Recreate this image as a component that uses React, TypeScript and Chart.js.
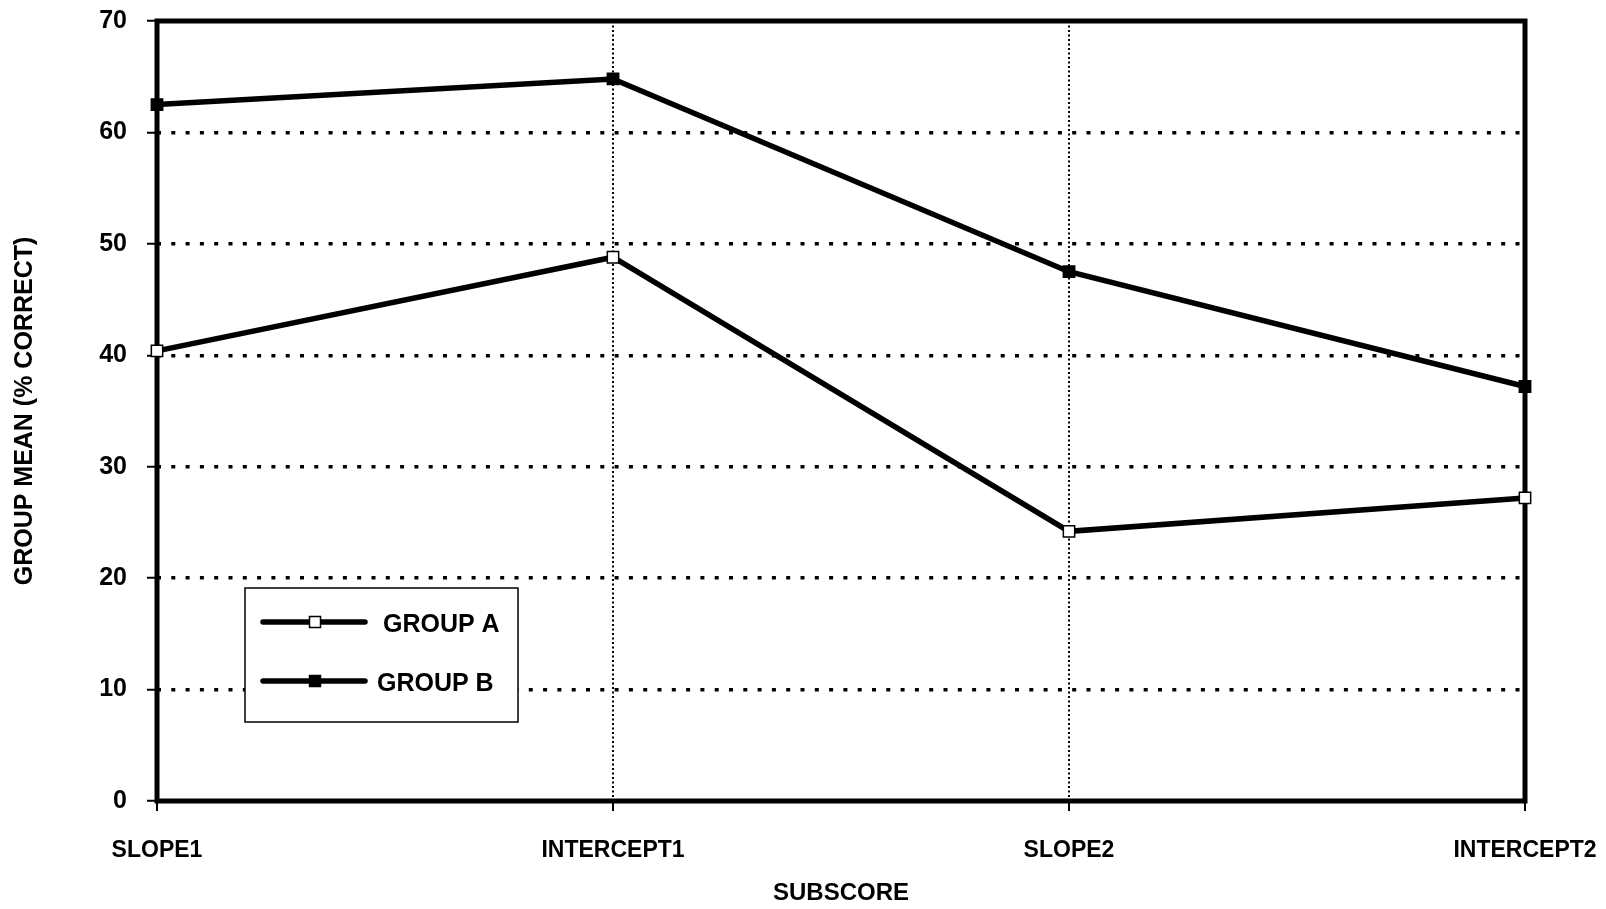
import React, { useEffect, useRef } from "react";
import { Chart, registerables } from "chart.js";

Chart.register(...registerables);

// Subscore categories along the x axis
const categories: string[] = ["SLOPE1", "INTERCEPT1", "SLOPE2", "INTERCEPT2"];

// Group means (% correct) per subscore
const groupA: number[] = [40.4, 48.8, 24.2, 27.2];
const groupB: number[] = [62.5, 64.8, 47.5, 37.2];

const seriesLabels: string[] = ["GROUP A", "GROUP B"];

// Value axis range and step
const yMin = 0;
const yMax = 70;
const yStep = 10;

const FONT = "'Liberation Sans', Arial, Helvetica, sans-serif";

// Let the layout padding alone decide the plot edges
function clearScalePadding(scale: any) {
  scale.paddingTop = 0;
  scale.paddingBottom = 0;
  scale.paddingLeft = 0;
  scale.paddingRight = 0;
}

// Thick black frame around the plotting area
const framePlugin = {
  id: "plotFrame",
  beforeDatasetsDraw(chart: any) {
    const { ctx, chartArea } = chart;
    ctx.save();
    ctx.strokeStyle = "#000";
    ctx.lineWidth = 5;
    ctx.lineJoin = "miter";
    ctx.strokeRect(
      chartArea.left,
      chartArea.top,
      chartArea.right - chartArea.left,
      chartArea.bottom - chartArea.top
    );
    ctx.restore();
  },
};

// Boxed legend sitting inside the lower-left of the plot
const boxedLegendPlugin = {
  id: "boxedLegend",
  afterDraw(chart: any) {
    const { ctx } = chart;
    const box = { x: 245, y: 588, w: 273, h: 134 };
    const rows = [622, 681];
    const textX = [383, 377];
    ctx.save();
    ctx.fillStyle = "#fff";
    ctx.fillRect(box.x, box.y, box.w, box.h);
    ctx.strokeStyle = "#000";
    ctx.lineWidth = 1.5;
    ctx.strokeRect(box.x, box.y, box.w, box.h);

    chart.data.datasets.forEach((ds: any, i: number) => {
      const y = rows[i];
      ctx.strokeStyle = "#000";
      ctx.lineWidth = ds.borderWidth;
      ctx.lineCap = "round";
      ctx.beginPath();
      ctx.moveTo(263, y);
      ctx.lineTo(365, y);
      ctx.stroke();

      const side = 11;
      ctx.lineCap = "butt";
      ctx.fillStyle = ds.pointBackgroundColor;
      ctx.fillRect(315 - side / 2, y - side / 2, side, side);
      ctx.lineWidth = 1.5;
      ctx.strokeStyle = "#000";
      ctx.strokeRect(315 - side / 2, y - side / 2, side, side);

      ctx.fillStyle = "#000";
      ctx.font = `bold 25px ${FONT}`;
      ctx.textAlign = "left";
      ctx.textBaseline = "middle";
      ctx.fillText(ds.label, textX[i], y + 3);
    });
    ctx.restore();
  },
};

export default function App() {
  const canvasRef = useRef<HTMLCanvasElement | null>(null);

  useEffect(() => {
    const canvas = canvasRef.current;
    if (!canvas) return;

    const chart = new Chart(canvas, {
      type: "line",
      data: {
        labels: categories,
        datasets: [
          {
            label: seriesLabels[0],
            data: groupA,
            borderColor: "#000",
            borderWidth: 5.5,
            pointStyle: "rect",
            pointRadius: 8,
            pointBorderWidth: 1.5,
            pointBackgroundColor: "#fff",
            pointBorderColor: "#000",
            tension: 0,
            clip: false as any,
          },
          {
            label: seriesLabels[1],
            data: groupB,
            borderColor: "#000",
            borderWidth: 5.5,
            pointStyle: "rect",
            pointRadius: 8,
            pointBorderWidth: 1.5,
            pointBackgroundColor: "#000",
            pointBorderColor: "#000",
            tension: 0,
            clip: false as any,
          },
        ],
      },
      options: {
        animation: false,
        responsive: false,
        devicePixelRatio: 1,
        events: [],
        layout: { padding: { left: 0, top: 21, right: 81, bottom: 0 } },
        plugins: {
          legend: { display: false },
          tooltip: { enabled: false },
        },
        scales: {
          x: {
            type: "category",
            offset: false,
            afterFit(scale: any) {
              scale.height = 108;
              clearScalePadding(scale);
            },
            grid: {
              color: "#000",
              lineWidth: 2,
              drawTicks: true,
              tickLength: 10,
              tickWidth: 2,
              tickColor: "#000",
              tickBorderDash: [],
            } as any,
            border: { display: false, dash: [2, 2.5] },
            ticks: {
              color: "#000",
              font: { family: FONT, size: 23, weight: "bold" },
              padding: 26,
              maxRotation: 0,
              minRotation: 0,
              autoSkip: false,
            },
            title: {
              display: true,
              text: "SUBSCORE",
              color: "#000",
              font: { family: FONT, size: 24, weight: "bold" },
              padding: { top: 0, bottom: 1 },
            },
          },
          y: {
            min: yMin,
            max: yMax,
            afterFit(scale: any) {
              scale.width = 157;
              clearScalePadding(scale);
            },
            grid: {
              color: "#000",
              lineWidth: 3.5,
              drawTicks: true,
              tickLength: 10,
              tickWidth: 2,
              tickColor: "#000",
              tickBorderDash: [],
            } as any,
            border: { display: false, dash: [4, 10.3] },
            ticks: {
              stepSize: yStep,
              color: "#000",
              font: { family: FONT, size: 25, weight: "bold" },
              padding: 20,
            },
            title: {
              display: true,
              text: "GROUP MEAN (% CORRECT)",
              color: "#000",
              font: { family: FONT, size: 25, weight: "bold" },
              padding: { top: 10, bottom: 0 },
            },
          },
        },
      },
      plugins: [framePlugin, boxedLegendPlugin],
    });

    return () => chart.destroy();
  }, []);

  return (
    <div
      style={{
        position: "fixed",
        left: 0,
        top: 0,
        width: 1606,
        height: 909,
        background: "#fff",
      }}
    >
      <canvas
        ref={canvasRef}
        width={1606}
        height={909}
        style={{ display: "block", width: 1606, height: 909 }}
      />
    </div>
  );
}
